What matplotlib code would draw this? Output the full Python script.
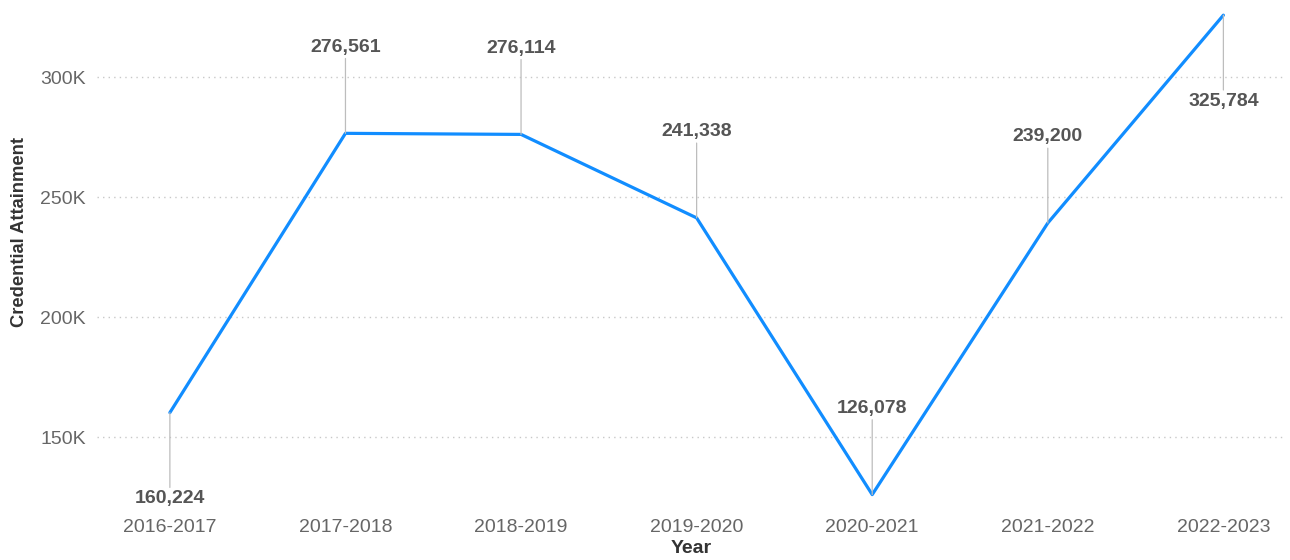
import matplotlib.pyplot as plt

plt.rcParams['font.family'] = ['Liberation Sans', 'DejaVu Sans']

# data
years = ["2016-2017", "2017-2018", "2018-2019", "2019-2020",
         "2020-2021", "2021-2022", "2022-2023"]
attainment = [160224, 276561, 276114, 241338, 126078, 239200, 325784]
label_below = [True, False, False, False, False, False, True]
yticks = [150000, 200000, 250000, 300000]
ytick_labels = ["150K", "200K", "250K", "300K"]

fig = plt.figure(figsize=(12.9, 5.6), dpi=100)
ax = fig.add_axes([0.0752, 0.098, 0.9208, 0.893])

x = list(range(len(years)))
ax.plot(x, attainment, color="#118DFF", lw=2.3, solid_capstyle="round", zorder=3)

# data labels with thin leader lines
for xi, val, below in zip(x, attainment, label_below):
    dy = -62 if below else 62
    ax.annotate(f"{val:,}", xy=(xi, val), xytext=(0, dy), textcoords="offset points",
                ha="center", va="center", fontsize=14, fontweight="bold", color="#555555",
                arrowprops=dict(arrowstyle="-", color="#bdbdbd", lw=0.9,
                                shrinkA=0, shrinkB=0))

ax.set_xlim(-0.415, 6.35)
ax.set_ylim(121700, 330000)
ax.set_xticks(x)
ax.set_xticklabels(years)
ax.set_yticks(yticks)
ax.set_yticklabels(ytick_labels)
ax.tick_params(axis="both", length=0, labelsize=14, labelcolor="#666666")
ax.tick_params(axis="x", pad=10)
ax.tick_params(axis="y", pad=8)

ax.grid(axis="y", linestyle=(0, (1, 3)), color="#c8c8c8", lw=1)
ax.set_axisbelow(True)
for s in ax.spines.values():
    s.set_visible(False)

ax.set_ylabel("Credential Attainment", fontsize=13.2, fontweight="bold", color="#333333")
ax.yaxis.set_label_coords(-0.058, 0.546)
ax.set_xlabel("Year", fontsize=14, fontweight="bold", color="#333333", labelpad=3)

fig.savefig("out.png", dpi=100)
